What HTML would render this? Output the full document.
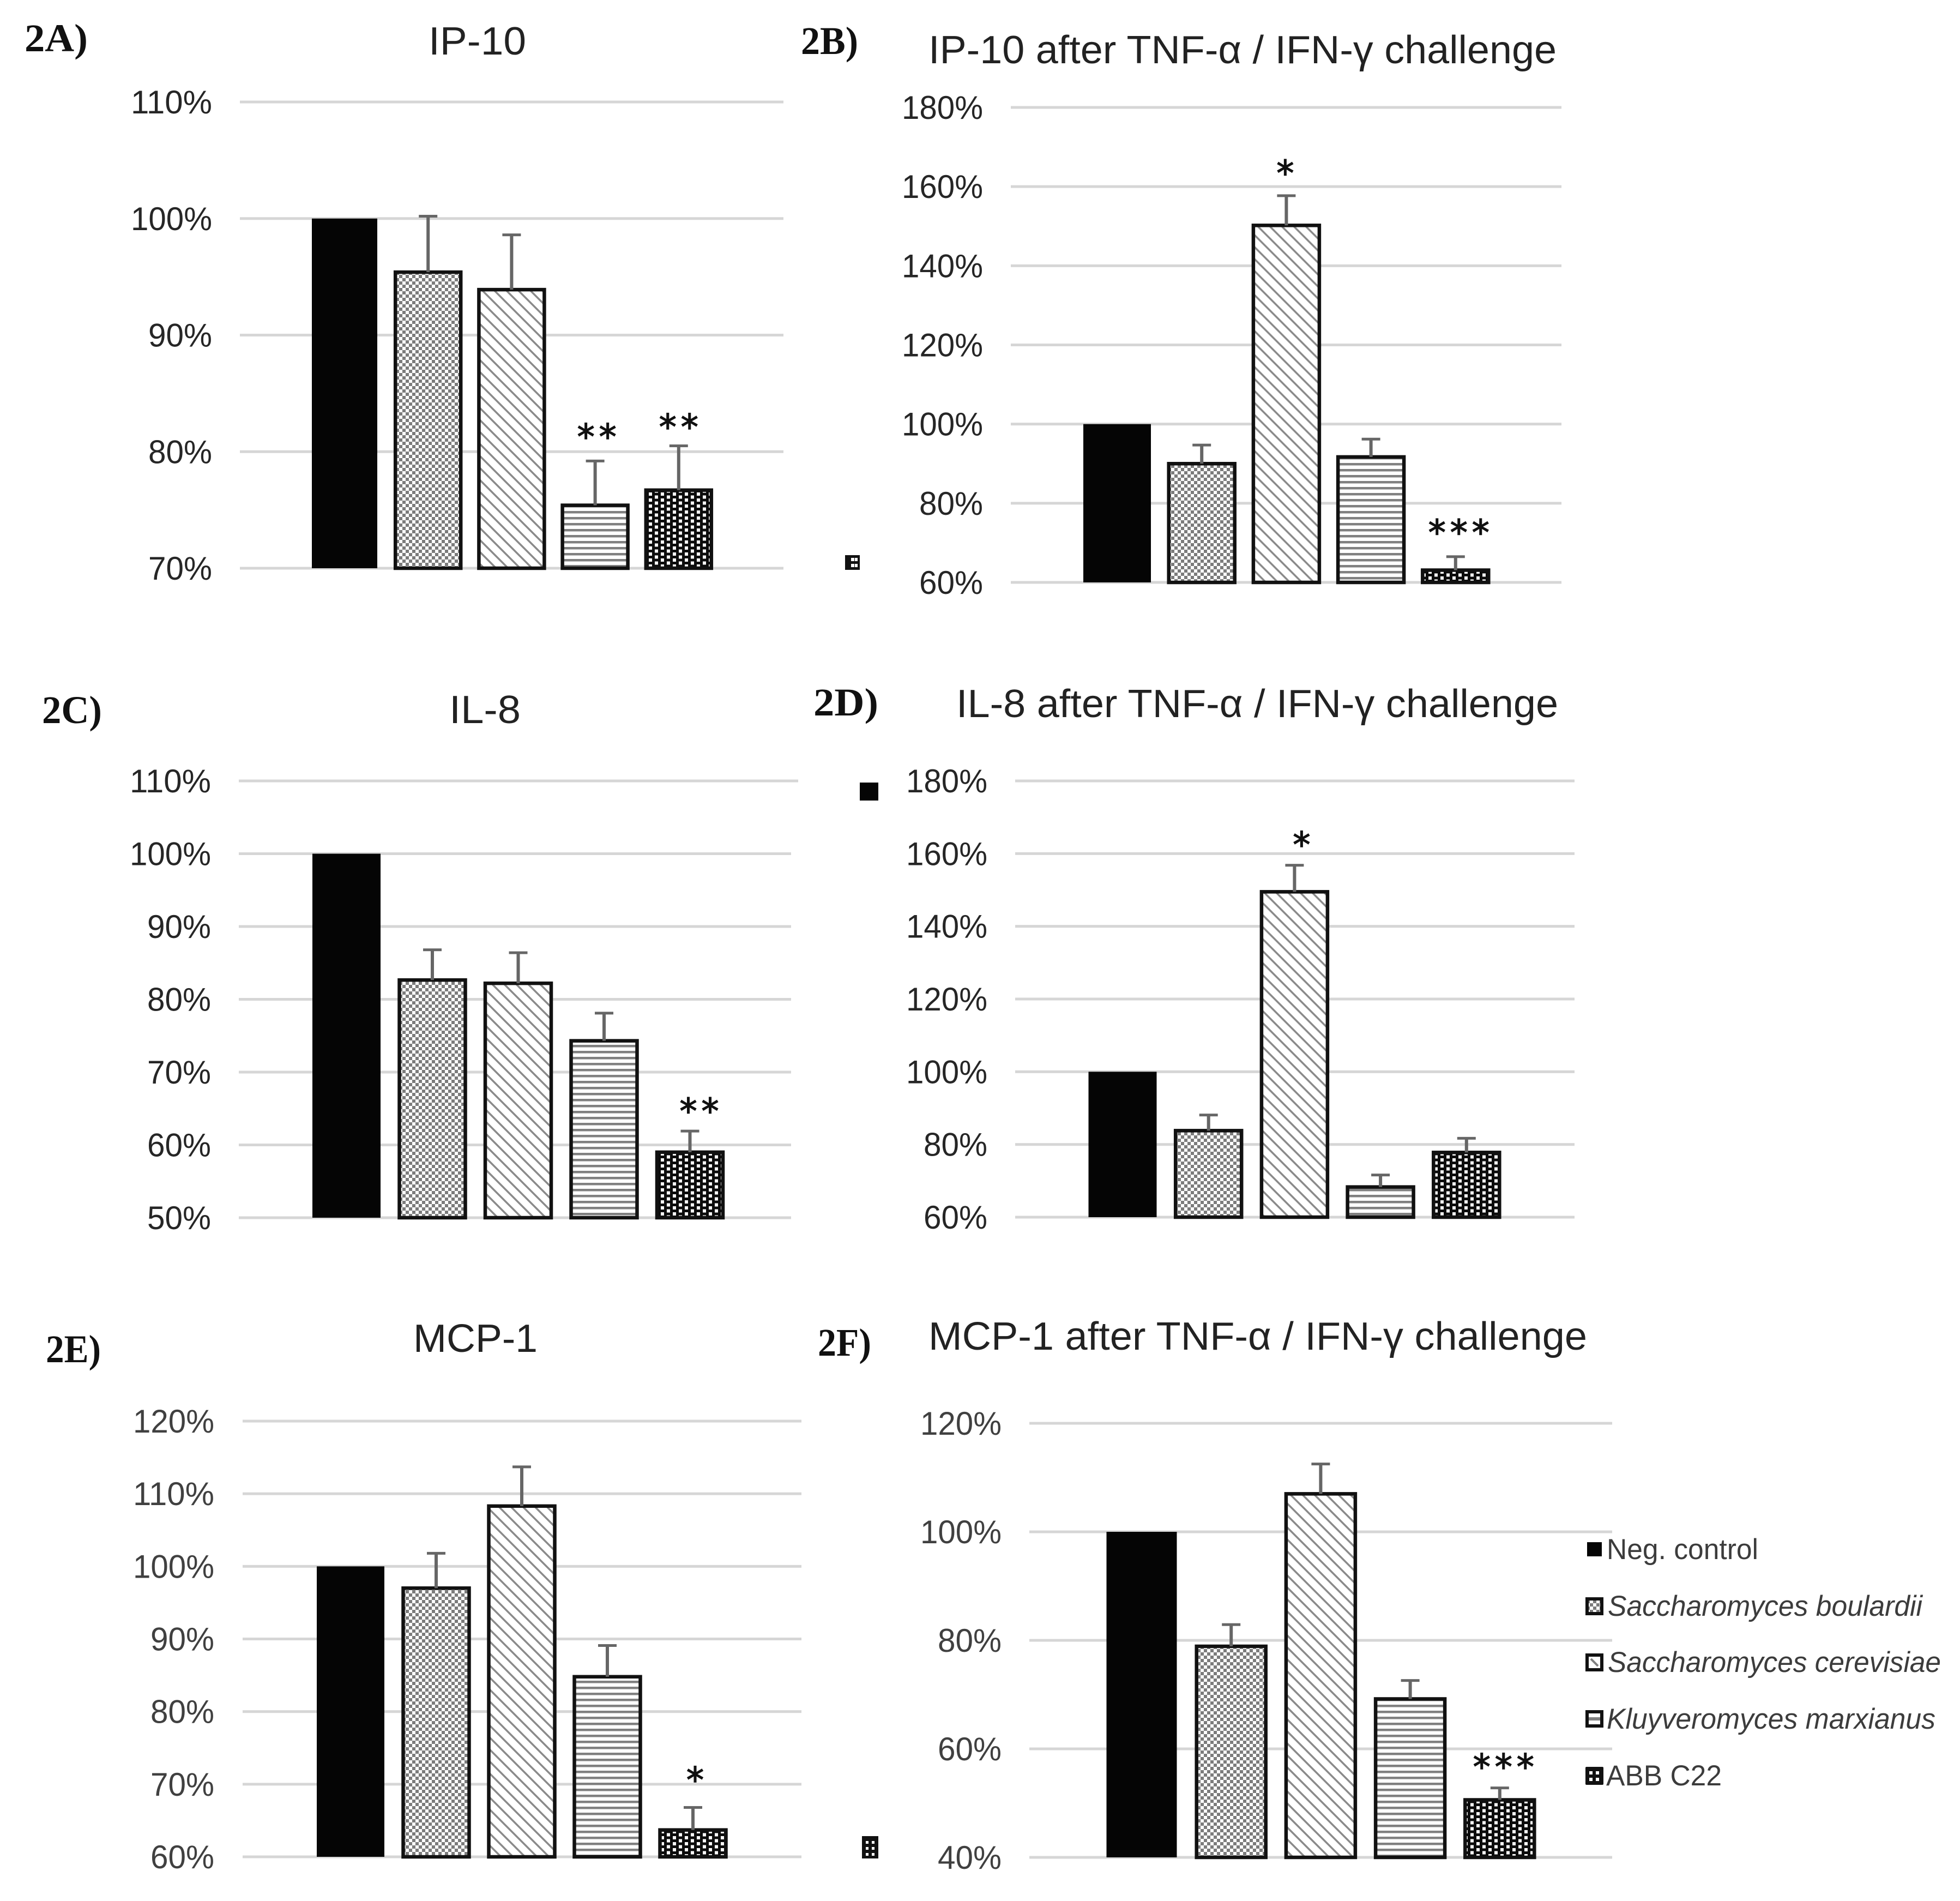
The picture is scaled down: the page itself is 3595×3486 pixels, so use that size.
<!DOCTYPE html>
<html lang="en">
<head>
<meta charset="utf-8">
<title>Cytokine production charts</title>
<style>
html,body{margin:0;padding:0;background:#fff}
svg{display:block}
.tick{font-family:"Liberation Sans",sans-serif;font-size:60px;text-anchor:end}
.title{font-family:"Liberation Sans",sans-serif;font-size:72px;fill:#222}
.plabel{font-family:"Liberation Serif",serif;font-weight:bold;font-size:72px;fill:#111}
.leg{font-family:"Liberation Sans",sans-serif;font-size:53px;fill:#3c3c3c}
.star{font-family:"DejaVu Sans",sans-serif;font-size:64px;fill:#111;stroke:#111;stroke-width:1.5px;text-anchor:middle;letter-spacing:8px}
</style>
</head>
<body>
<svg id="figure" xmlns="http://www.w3.org/2000/svg" width="3595" height="3486" viewBox="0 0 3595 3486">
<defs>
<pattern id="check" patternUnits="userSpaceOnUse" width="12" height="12"><rect width="12" height="12" fill="#fff"/><rect width="6" height="6" fill="#7c7c7c"/><rect x="6" y="6" width="6" height="6" fill="#7c7c7c"/></pattern>
<pattern id="diag" patternUnits="userSpaceOnUse" width="22" height="22"><rect width="22" height="22" fill="#fff"/><path d="M-4,-4L26,26M-4,18L4,26M18,-4L26,4" stroke="#8a8a8a" stroke-width="3.5" fill="none"/></pattern>
<pattern id="hstripe" patternUnits="userSpaceOnUse" width="11" height="11"><rect width="11" height="11" fill="#fff"/><rect y="2" width="11" height="4.5" fill="#808080"/></pattern>
<pattern id="dots" patternUnits="userSpaceOnUse" width="22" height="11"><rect width="22" height="11" fill="#0c0c0c"/><rect x="2" y="1" width="6" height="6" fill="#fff"/><rect x="13" y="6.5" width="6" height="6" fill="#fff"/><rect x="13" y="-4.5" width="6" height="6" fill="#fff"/></pattern>
</defs>
<rect width="3595" height="3486" fill="#fff"/>

<text class="plabel" x="45" y="94" textLength="116" lengthAdjust="spacingAndGlyphs">2A)</text>
<text class="plabel" x="1469" y="99" textLength="105" lengthAdjust="spacingAndGlyphs">2B)</text>
<text class="plabel" x="77" y="1326" textLength="110" lengthAdjust="spacingAndGlyphs">2C)</text>
<text class="plabel" x="1492" y="1312" textLength="119" lengthAdjust="spacingAndGlyphs">2D)</text>
<text class="plabel" x="84" y="2498" textLength="101" lengthAdjust="spacingAndGlyphs">2E)</text>
<text class="plabel" x="1500" y="2486" textLength="98" lengthAdjust="spacingAndGlyphs">2F)</text>

<text class="title" x="786" y="100" textLength="179" lengthAdjust="spacingAndGlyphs">IP-10</text>
<text class="title" x="1703" y="116" textLength="1152" lengthAdjust="spacingAndGlyphs">IP-10 after TNF-α / IFN-γ challenge</text>
<text class="title" x="824" y="1326" textLength="131" lengthAdjust="spacingAndGlyphs">IL-8</text>
<text class="title" x="1754" y="1315" textLength="1104" lengthAdjust="spacingAndGlyphs">IL-8 after TNF-α / IFN-γ challenge</text>
<text class="title" x="758" y="2479" textLength="228" lengthAdjust="spacingAndGlyphs">MCP-1</text>
<text class="title" x="1703" y="2475" textLength="1208" lengthAdjust="spacingAndGlyphs">MCP-1 after TNF-α / IFN-γ challenge</text>

<g id="plots"></g>

<g>
<rect x="1550" y="1018" width="27" height="27" fill="#111"/>
<rect x="1561" y="1023" width="6" height="6" fill="#fff"/><rect x="1568" y="1023" width="5" height="6" fill="#fff"/><rect x="1561" y="1034" width="6" height="6" fill="#fff"/><rect x="1568" y="1034" width="5" height="6" fill="#fff"/>
</g>
<rect x="1577" y="1435" width="34" height="33" fill="#050505"/>
<g>
<rect x="1581" y="3367" width="30" height="41" fill="#111"/>
<rect x="1588" y="3376" width="5" height="5" fill="#fff"/><rect x="1599" y="3376" width="5" height="5" fill="#fff"/><rect x="1588" y="3387" width="5" height="5" fill="#fff"/><rect x="1599" y="3387" width="5" height="5" fill="#fff"/><rect x="1588" y="3398" width="5" height="5" fill="#fff"/><rect x="1599" y="3398" width="5" height="5" fill="#fff"/>
</g>

<g>
<g>
<rect x="2911" y="2828" width="27" height="26" fill="#050505"/>
<text class="leg" x="2947" y="2859" textLength="278" lengthAdjust="spacingAndGlyphs">Neg. control</text>
</g>
<g>
<rect x="2911" y="2932" width="27" height="27" fill="url(#check)" stroke="#111" stroke-width="6"/>
<text class="leg" font-style="italic" x="2949" y="2963" textLength="577" lengthAdjust="spacingAndGlyphs">Saccharomyces boulardii</text>
</g>
<g>
<rect x="2911" y="3035" width="27" height="27" fill="#fff" stroke="#111" stroke-width="6"/>
<path d="M2918,3042L2931,3055" stroke="#808080" stroke-width="4"/>
<text class="leg" font-style="italic" x="2949" y="3066" textLength="611" lengthAdjust="spacingAndGlyphs">Saccharomyces cerevisiae</text>
</g>
<g>
<rect x="2911" y="3139" width="27" height="26" fill="#fff" stroke="#111" stroke-width="6"/>
<rect x="2914" y="3149" width="21" height="6" fill="#808080"/>
<text class="leg" font-style="italic" x="2947" y="3170" textLength="603" lengthAdjust="spacingAndGlyphs">Kluyveromyces marxianus</text>
</g>
<g>
<g>
<rect x="2908" y="3240" width="33" height="33" rx="2" fill="#111"/>
<rect x="2915" y="3248" width="6" height="6" fill="#fff"/><rect x="2927" y="3248" width="6" height="6" fill="#fff"/><rect x="2915" y="3260" width="6" height="6" fill="#fff"/><rect x="2927" y="3260" width="6" height="6" fill="#fff"/>
</g>
<text class="leg" x="2946" y="3274" textLength="212" lengthAdjust="spacingAndGlyphs">ABB C22</text>
</g>
</g>
</svg>

<script>
const categories = ['neg-control', 's-boulardii', 's-cerevisiae', 'k-marxianus', 'abb-c22'];

const ip10Ticks = [70, 80, 90, 100, 110];
const ip10Values = [100, 95.4, 93.9, 75.4, 76.7];
const ip10Errors = [0, 4.8, 4.7, 3.8, 3.8];
const ip10Stars = ['', '', '', '**', '**'];

const ip10ChallengeTicks = [60, 80, 100, 120, 140, 160, 180];
const ip10ChallengeValues = [100, 90, 150.2, 91.7, 63.1];
const ip10ChallengeErrors = [0, 4.7, 7.5, 4.5, 3.4];
const ip10ChallengeStars = ['', '', '*', '', '***'];

const il8Ticks = [50, 60, 70, 80, 90, 100, 110];
const il8Values = [100, 82.65, 82.2, 74.3, 59];
const il8Errors = [0, 4.15, 4.2, 3.8, 2.9];
const il8Stars = ['', '', '', '', '**'];

const il8ChallengeTicks = [60, 80, 100, 120, 140, 160, 180];
const il8ChallengeValues = [100, 83.8, 149.5, 68.3, 77.8];
const il8ChallengeErrors = [0, 4.3, 7.3, 3.3, 3.9];
const il8ChallengeStars = ['', '', '*', '', ''];

const mcp1Ticks = [60, 70, 80, 90, 100, 110, 120];
const mcp1Values = [100, 97, 108.3, 84.8, 63.7];
const mcp1Errors = [0, 4.8, 5.4, 4.3, 3.1];
const mcp1Stars = ['', '', '', '', '*'];

const mcp1ChallengeTicks = [40, 60, 80, 100, 120];
const mcp1ChallengeValues = [100, 78.9, 107, 69.2, 50.6];
const mcp1ChallengeErrors = [0, 4, 5.5, 3.4, 2.2];
const mcp1ChallengeStars = ['', '', '', '', '***'];

const fills = ['#050505', 'url(#check)', 'url(#diag)', 'url(#hstripe)', 'url(#dots)'];

function make(tag, attrs, parent) {
  const el = document.createElementNS('http://www.w3.org/2000/svg', tag);
  for (const k in attrs) el.setAttribute(k, attrs[k]);
  parent.appendChild(el);
  return el;
}

function drawPanel(p) {
  const root = document.getElementById('plots');
  const g = make('g', {}, root);
  
  

  const lo = p.ticks[0];
  const hi = p.ticks[p.ticks.length - 1];
  const yAxis = v => p.yBot + (v - lo) * (p.yTop - p.yBot) / (hi - lo);
  const xAxis = i => p.c0 + i * p.step;

  p.ticks.forEach(t => {
    const line = make('rect', {
      x: p.x0,
      y: yAxis(t) - 2.5,
      width: (t === hi && p.topEnd ? p.topEnd : p.x1) - p.x0,
      height: 5,
      fill: '#d6d6d6'
    }, g);
    
    

    const text = t + '%';
    const label = make('text', {
      class: 'tick',
      x: p.labelX + 2,
      y: yAxis(t) + 21,
      fill: p.color,
      textLength: text.length === 4 ? 149 : 117,
      lengthAdjust: 'spacingAndGlyphs'
    }, g);
    label.textContent = text;
    
    
  });

  categories.forEach((cat, i) => {
    const c = xAxis(i);
    const top = yAxis(p.values[i]);
    const w = i === 0 ? p.blackW : p.bw;
    const bar = make('rect', {
      x: c - w / 2,
      y: top,
      width: w,
      height: p.yBot - top,
      fill: fills[i]
    }, g);
    if (i > 0) {
      bar.setAttribute('stroke', '#111');
      bar.setAttribute('stroke-width', '6.5');
    }
    
    

    if (p.errors[i] > 0) {
      const errTop = yAxis(p.values[i] + p.errors[i]);
      const stem = make('rect', { x: c - 3, y: errTop, width: 6, height: top - errTop, fill: '#666' }, g);
      
      
      const cap = make('rect', { x: c - 17, y: errTop - 2.5, width: 34, height: 5, fill: '#666' }, g);
      
      
    }

    if (p.stars[i]) {
      const errTop = yAxis(p.values[i] + p.errors[i]);
      const star = make('text', { class: 'star', x: c + p.starDx[i], y: errTop - p.starGap[i] + 29 }, g);
      star.textContent = p.stars[i];
      
      
    }
  });
}

drawPanel({ name: 'ip10', ticks: ip10Ticks, values: ip10Values, errors: ip10Errors, stars: ip10Stars,
  x0: 440, x1: 1437, yTop: 187, yBot: 1042, c0: 632, step: 153.2, bw: 120, blackW: 120, labelX: 387,
  starDx: { 3: 7, 4: 4 }, starGap: { 3: 51, 4: 41 }, color: '#262626' });
drawPanel({ name: 'ip10-challenge', ticks: ip10ChallengeTicks, values: ip10ChallengeValues, errors: ip10ChallengeErrors, stars: ip10ChallengeStars,
  x0: 1854, x1: 2864, yTop: 197, yBot: 1068, c0: 2049, step: 155.2, bw: 121, blackW: 124, labelX: 1801,
  starDx: { 2: 2, 4: 10 }, starGap: { 2: 48, 4: 51 }, color: '#262626' });
drawPanel({ name: 'il8', ticks: il8Ticks, values: il8Values, errors: il8Errors, stars: il8Stars,
  x0: 438, x1: 1451, topEnd: 1464, yTop: 1432, yBot: 2233, c0: 635.5, step: 157.5, bw: 121, blackW: 125, labelX: 385,
  starDx: { 4: 21 }, starGap: { 4: 43 }, color: '#262626' });
drawPanel({ name: 'il8-challenge', ticks: il8ChallengeTicks, values: il8ChallengeValues, errors: il8ChallengeErrors, stars: il8ChallengeStars,
  x0: 1862, x1: 2888, yTop: 1432, yBot: 2232, c0: 2059, step: 157.7, bw: 121, blackW: 125, labelX: 1809,
  starDx: { 2: 17 }, starGap: { 2: 44 }, color: '#262626' });
drawPanel({ name: 'mcp1', ticks: mcp1Ticks, values: mcp1Values, errors: mcp1Errors, stars: mcp1Stars,
  x0: 445, x1: 1470, yTop: 2606, yBot: 3405, c0: 643, step: 157, bw: 121, blackW: 124, labelX: 391,
  starDx: { 4: 8 }, starGap: { 4: 57 }, color: '#404040' });
drawPanel({ name: 'mcp1-challenge', ticks: mcp1ChallengeTicks, values: mcp1ChallengeValues, errors: mcp1ChallengeErrors, stars: mcp1ChallengeStars,
  x0: 1888, x1: 2957, yTop: 2610, yBot: 3406, c0: 2094, step: 164.2, bw: 127, blackW: 129, labelX: 1835,
  starDx: { 4: 11 }, starGap: { 4: 45 }, color: '#404040' });
</script>
</body>
</html>
